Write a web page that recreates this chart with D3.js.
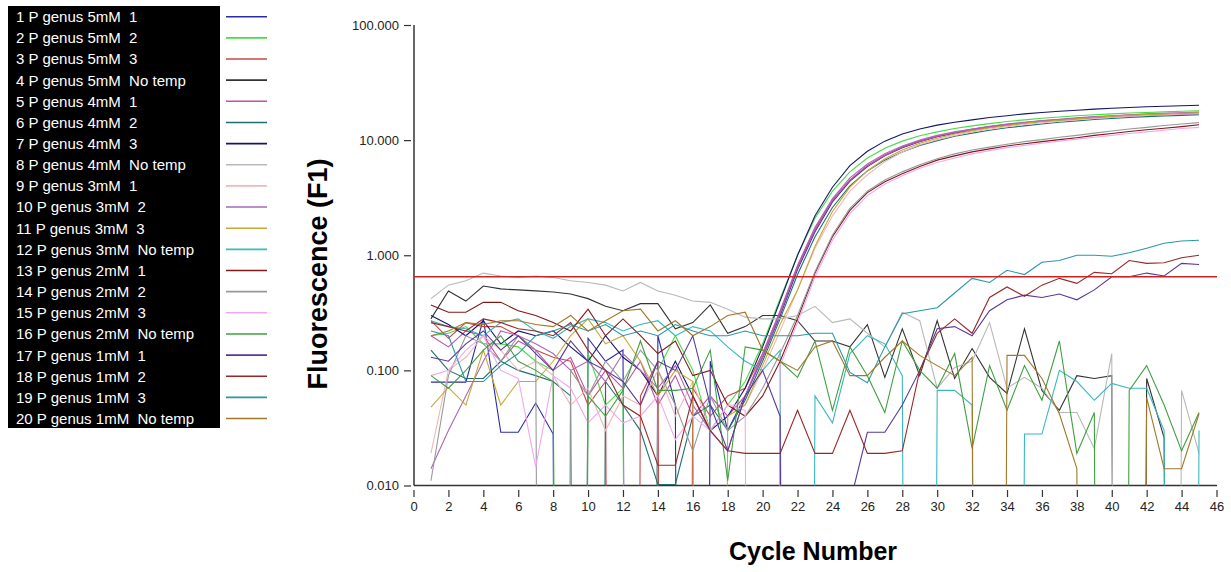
<!DOCTYPE html>
<html>
<head>
<meta charset="utf-8">
<script src="https://cdn.jsdelivr.net/npm/d3@7"></script>
<style>
  body { margin: 0; background: #fff; }
  svg { display: block; font-family: Arial, "Liberation Sans", sans-serif; }
</style>
</head>
<body>
<div id="chart"></div>
<script>
// cycle numbers on the x axis
var cycles = [1,2,3,4,5,6,7,8,9,10,11,12,13,14,15,16,17,18,19,20,21,22,23,24,25,26,27,28,29,30,
  31,32,33,34,35,36,37,38,39,40,41,42,43,44,45];

var names = ["1 P genus 5mM  1", "2 P genus 5mM  2", "3 P genus 5mM  3", "4 P genus 5mM  No temp",
  "5 P genus 4mM  1", "6 P genus 4mM  2", "7 P genus 4mM  3", "8 P genus 4mM  No temp",
  "9 P genus 3mM  1", "10 P genus 3mM  2", "11 P genus 3mM  3", "12 P genus 3mM  No temp",
  "13 P genus 2mM  1", "14 P genus 2mM  2", "15 P genus 2mM  3", "16 P genus 2mM  No temp",
  "17 P genus 1mM  1", "18 P genus 1mM  2", "19 P genus 1mM  3", "20 P genus 1mM  No temp"];

var colors = ["#2a2aa8", "#44dd44", "#c84848", "#333333", "#c050a8", "#1e7070", "#15156a", "#b8b8b8",
  "#f0b8b8", "#a868b8", "#c8a838", "#38b8c0", "#801818", "#989898", "#f0a8f0", "#40a040",
  "#583898", "#982828", "#2898a8", "#a07828"];

var yTicks = [0.01, 0.1, 1, 10, 100];
var xTicks = [0,2,4,6,8,10,12,14,16,18,20,22,24,26,28,30,32,34,36,38,40,42,44,46];
var threshold = 0.65;

// fluorescence per cycle, 0 = below the scale
var s1 = [0.079,0.079,0.079,0.28,0.029,0.029,0.052,0.028,0,0.19,0.12,0.15,0,0.2,0.05,0,0.12,0.03,
  0.06,0.13,0.3,0.75,1.6,2.9,4.4,5.9,7.3,8.6,9.7,10.7,11.5,12.2,12.9,13.5,14.0,14.5,14.9,15.3,15.6,15.9,16.2,16.4,16.6,16.8,16.9];
var s2 = [0.2,0.21,0.24,0.17,0.17,0.16,0.12,0.1,0,0.14,0.05,0.07,0,0.1,0.2,0.1,0.03,0.05,
  0.08,0.17,0.42,1.0,2.1,3.6,5.3,7.0,8.5,9.8,10.9,11.8,12.6,13.3,13.9,14.5,15.0,15.5,15.9,16.3,16.6,16.9,17.2,17.4,17.6,17.8,18.0];
var s3 = [0.27,0.19,0.26,0.24,0.24,0.2,0.15,0.13,0.12,0.05,0.08,0,0.06,0.12,0,0.07,0.04,0.06,
  0.07,0.14,0.32,0.8,1.7,3.0,4.5,6.0,7.4,8.7,9.8,10.8,11.7,12.4,13.1,13.7,14.2,14.7,15.1,15.5,15.9,16.2,16.5,16.8,17.0,17.2,17.4];
var s4 = [0.28,0.49,0.4,0.54,0.51,0.5,0.49,0.48,0.46,0.42,0.36,0.33,0.38,0.38,0.23,0.26,0.37,0.21,
  0.24,0.3,0.3,0.27,0.18,0.18,0.16,0.25,0.087,0.23,0.09,0.27,0.085,0.155,0.087,0.063,0.23,0.067,0.045,0.09,0.085,0.09,0,0.085,0.026,0,0];
var s5 = [0.2,0.16,0.22,0.2,0.12,0.18,0.15,0.1,0.13,0.06,0.1,0.07,0.12,0.05,0.09,0.04,0.06,0.04,
  0.06,0.13,0.31,0.78,1.65,3.0,4.5,6.0,7.4,8.7,9.8,10.8,11.6,12.4,13.0,13.6,14.1,14.6,15.0,15.4,15.7,16.0,16.3,16.6,16.8,17.0,17.2];
var s6 = [0.15,0.1,0.085,0.085,0.12,0.1,0.09,0.08,0.06,0,0.08,0.05,0.03,0.0102,0.0102,0.04,0.05,0.03,
  0.055,0.12,0.28,0.68,1.45,2.6,4.0,5.4,6.7,7.9,9.0,9.9,10.8,11.5,12.2,12.8,13.3,13.8,14.3,14.7,15.1,15.4,15.7,16.0,16.2,16.4,16.6];
var s7 = [0.3,0.25,0.2,0.27,0.17,0.22,0.2,0.22,0.16,0.12,0.2,0.13,0.1,0.06,0.12,0.06,0.03,0.04,
  0.07,0.16,0.4,1.0,2.2,3.9,6.0,8.0,9.8,11.3,12.5,13.5,14.3,15.0,15.7,16.3,16.9,17.4,17.8,18.2,18.6,18.9,19.2,19.5,19.7,19.9,20.1];
var s8 = [0.42,0.55,0.6,0.7,0.66,0.64,0.66,0.64,0.6,0.58,0.55,0.49,0.58,0.49,0.45,0.4,0.39,0.34,
  0.29,0.28,0.28,0.3,0.36,0.26,0.28,0.21,0.16,0.32,0.27,0.07,0.106,0.12,0.26,0.07,0.087,0.07,0.043,0.043,0.021,0.14,0,0,0,0.067,0.019];
var s9 = [0.019,0.1,0.13,0.2,0.15,0.1,0.12,0.09,0.05,0.07,0.03,0.06,0.05,0.1,0.04,0.08,0.03,0.05,
  0.05,0.1,0.22,0.5,1.15,2.2,3.6,5.0,6.5,7.9,9.1,10.1,11.0,11.8,12.5,13.1,13.7,14.2,14.6,15.0,15.4,15.8,16.1,16.4,16.6,16.8,17.0];
var s10 = [0.014,0.03,0.06,0.12,0.22,0.2,0.17,0.14,0.1,0.12,0.08,0.14,0.1,0.07,0.11,0.05,0.03,0.02,
  0.06,0.14,0.33,0.82,1.75,3.1,4.7,6.2,7.6,8.9,10.0,11.0,11.8,12.5,13.2,13.8,14.3,14.8,15.2,15.6,16.0,16.3,16.6,16.9,17.1,17.3,17.5];
var s11 = [0.048,0.071,0.05,0.15,0.05,0.08,0.08,0.12,0.2,0.28,0.17,0.2,0.12,0.06,0.1,0.08,0,0.04,
  0.05,0.11,0.25,0.5,1.2,2.4,3.9,5.4,6.9,8.2,9.4,10.4,11.3,12.1,12.8,13.4,14.0,14.5,14.9,15.3,15.7,16.1,16.4,16.7,16.9,17.1,17.3];
var s12 = [0.27,0.24,0.23,0.2,0.26,0.28,0.22,0.19,0.24,0.28,0.26,0.22,0.25,0.27,0.2,0.24,0.22,0.16,
  0.12,0.1,0.15,0,0.06,0.035,0.14,0.2,0.17,0.09,0,0.067,0.067,0.05,0,0,0.028,0.028,0.1,0.08,0.055,0.077,0.07,0.07,0.03,0,0.03];
var s13 = [0.37,0.32,0.32,0.39,0.39,0.33,0.3,0.26,0.22,0.34,0.2,0.28,0.2,0.14,0.18,0.09,0.1,0.05,
  0.04,0.06,0.12,0.28,0.7,1.45,2.45,3.5,4.35,5.1,5.9,6.7,7.3,7.9,8.4,8.9,9.3,9.7,10.1,10.5,11.0,11.4,11.9,12.3,12.7,13.1,13.6];
var s14 = [0.011,0.09,0.2,0.17,0.12,0.2,0.15,0,0.1,0.06,0.12,0.08,0.15,0.1,0.05,0.02,0.06,0.03,
  0.04,0.07,0.14,0.3,0.72,1.5,2.55,3.6,4.5,5.3,6.1,6.9,7.6,8.2,8.7,9.2,9.7,10.1,10.6,11.0,11.5,12.0,12.5,12.9,13.4,13.8,14.2];
var s15 = [0.09,0.1,0.15,0.2,0.1,0.085,0.0145,0.09,0.07,0.035,0.05,0.035,0.04,0.06,0.025,0.04,0.03,0.05,
  0.045,0,0.11,0.26,0.65,1.35,2.3,3.3,4.15,4.9,5.7,6.4,7.0,7.6,8.1,8.6,9.0,9.4,9.8,10.2,10.6,11.0,11.4,11.8,12.2,12.6,12.9];
var s16 = [0.09,0.07,0.1,0.15,0.2,0.12,0.1,0.08,0,0.06,0.04,0.067,0.18,0.067,0.067,0.07,0.15,0.011,
  0.16,0.15,0.12,0.087,0.18,0.045,0.16,0.09,0.043,0.18,0.1,0.07,0.14,0.021,0.11,0.045,0.11,0.055,0.18,0.019,0.043,0,0.067,0.11,0.05,0.02,0.043];
var s17 = [0.13,0.12,0.17,0.22,0.15,0.2,0.14,0.1,0.18,0.12,0.1,0.08,0.05,0.12,0.1,0.2,0.05,0.02,
  0.06,0.1,0.04,0,0,0,0.007,0.029,0.029,0.05,0.1,0.23,0.24,0.2,0.33,0.41,0.45,0.43,0.46,0.41,0.5,0.65,0.65,0.7,0.66,0.85,0.83];
var s18 = [0.26,0.24,0.22,0.28,0.26,0.23,0.22,0.2,0.26,0.15,0.1,0.05,0.04,0.015,0.015,0.06,0.03,0.02,
  0.019,0.019,0.019,0.045,0.019,0.019,0.045,0.019,0.019,0.02,0.1,0.21,0.28,0.21,0.43,0.53,0.44,0.55,0.63,0.57,0.71,0.69,0.9,0.85,0.86,0.95,1.0];
var s19 = [0.22,0.2,0.08,0.08,0.11,0.14,0.2,0.22,0.25,0.22,0.25,0.2,0.22,0.2,0.25,0.22,0.2,0.2,
  0.22,0.2,0.2,0.2,0.21,0.21,0.096,0.078,0.16,0.31,0.33,0.35,0.47,0.63,0.58,0.74,0.68,0.87,0.9,1.0,1.0,0.98,1.05,1.15,1.27,1.33,1.35];
var s20 = [0.2,0.22,0.26,0.25,0.27,0.27,0.25,0.24,0.3,0.22,0.27,0.33,0.34,0.22,0.27,0.2,0.24,0.3,
  0.32,0.15,0.12,0.1,0.16,0.18,0.09,0.09,0.13,0.18,0.135,0.11,0.09,0.13,0,0.135,0.135,0.085,0.042,0.014,0,0,0,0.058,0.014,0.014,0.042];

var series = [s1,s2,s3,s4,s5,s6,s7,s8,s9,s10,s11,s12,s13,s14,s15,s16,s17,s18,s19,s20];

var width = 1231, height = 572;
var plotLeft = 414, plotRight = 1217, plotTop = 25, plotBottom = 485.5;

var svg = d3.select("#chart").append("svg")
    .attr("width", width)
    .attr("height", height);

var x = d3.scaleLinear().domain([0, 46]).range([413.5, 1216.5]);
var y = d3.scaleLog().domain([0.01, 100]).range([plotBottom, plotTop]);

// legend
var legend = svg.append("g").attr("class", "legend");
legend.append("rect")
    .attr("x", 8).attr("y", 6)
    .attr("width", 212).attr("height", 422)
    .attr("fill", "#000");

var rows = legend.selectAll("g.row")
    .data(names)
  .enter().append("g")
    .attr("class", "row")
    .attr("transform", function(d, i) { return "translate(0," + (16.7 + i * 21.15) + ")"; });

rows.append("text")
    .attr("x", 16)
    .attr("dy", "0.36em")
    .attr("fill", "#fff")
    .style("font-size", "15px")
    .style("white-space", "pre")
    .attr("xml:space", "preserve")
    .text(function(d) { return d; });

rows.append("line")
    .attr("x1", 226).attr("x2", 267)
    .attr("stroke", function(d, i) { return colors[i]; })
    .attr("stroke-width", 1.6);

// clip for the plot area
svg.append("clipPath").attr("id", "plot-clip")
  .append("rect")
    .attr("x", plotLeft).attr("y", plotTop - 5)
    .attr("width", plotRight - plotLeft).attr("height", plotBottom - plotTop + 5);

// axes
var xAxis = d3.axisBottom(x).tickValues(xTicks).tickSize(7).tickPadding(5);
var yAxis = d3.axisLeft(y).tickValues(yTicks).tickSize(7).tickPadding(5)
    .tickFormat(d3.format(".3f"));

var gx = svg.append("g")
    .attr("transform", "translate(0," + (plotBottom + 4.5) + ")")
    .call(xAxis);
var gy = svg.append("g")
    .attr("transform", "translate(" + (plotLeft - 3) + ",0)")
    .call(yAxis);

[gx, gy].forEach(function(g) {
  g.select(".domain").remove();
  g.selectAll(".tick line").attr("stroke", "#333").attr("stroke-width", 1.2);
  g.selectAll(".tick text").attr("fill", "#222").style("font-size", "13px");
});

svg.append("line")
    .attr("x1", plotLeft).attr("x2", plotLeft)
    .attr("y1", plotTop).attr("y2", plotBottom)
    .attr("stroke", "#333").attr("stroke-width", 1.5);
svg.append("line")
    .attr("x1", plotLeft).attr("x2", plotRight)
    .attr("y1", plotBottom).attr("y2", plotBottom)
    .attr("stroke", "#333").attr("stroke-width", 1.5);

// data lines
var line = d3.line()
    .x(function(d, i) { return x(cycles[i]); })
    .y(function(d) { return y(d > 0 ? d : 1e-30); });

svg.append("g")
    .attr("clip-path", "url(#plot-clip)")
  .selectAll("path")
    .data(series)
  .enter().append("path")
    .attr("d", line)
    .attr("fill", "none")
    .attr("stroke", function(d, i) { return colors[i]; })
    .attr("stroke-width", 1.1);

// threshold
svg.append("line")
    .attr("x1", plotLeft).attr("x2", plotRight)
    .attr("y1", y(threshold)).attr("y2", y(threshold))
    .attr("stroke", "#cc2222").attr("stroke-width", 1.5);

// axis titles
svg.append("text")
    .attr("transform", "translate(318,274) rotate(-90)")
    .attr("text-anchor", "middle")
    .attr("dy", "0.35em")
    .style("font-size", "27px")
    .style("font-weight", "bold")
    .text("Fluorescence (F1)");

svg.append("text")
    .attr("x", 813).attr("y", 560)
    .attr("text-anchor", "middle")
    .style("font-size", "25px")
    .style("font-weight", "bold")
    .text("Cycle Number");
</script>
</body>
</html>
